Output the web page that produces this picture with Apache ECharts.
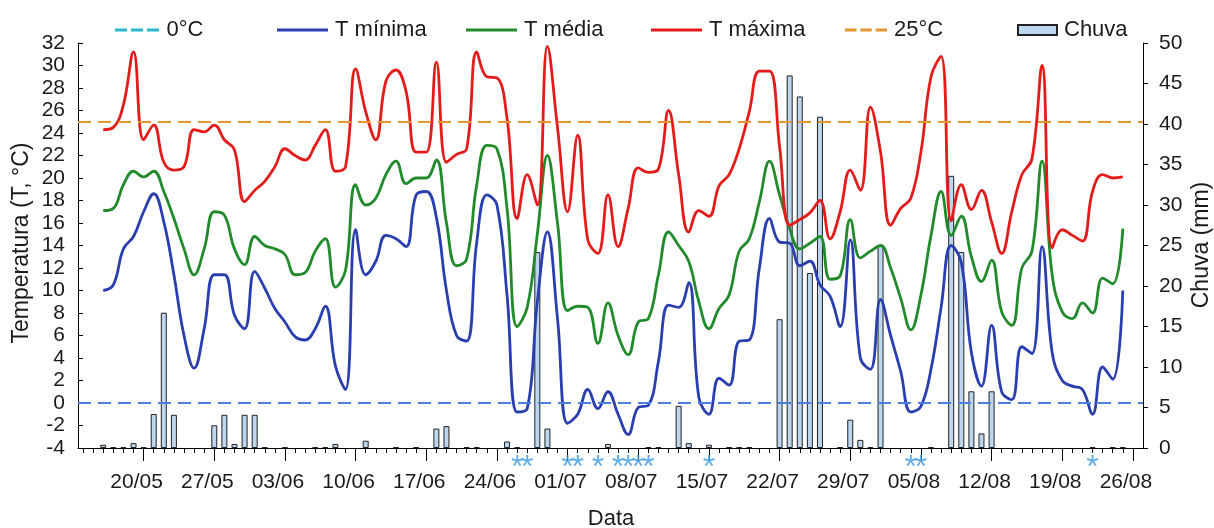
<!DOCTYPE html>
<html><head><meta charset="utf-8">
<script src="https://cdn.jsdelivr.net/npm/echarts@6/dist/echarts.min.js"></script>
<style>html,body{margin:0;padding:0;background:#fff}#c{width:1214px;height:528px}</style>
</head><body><div id="c"></div>
<script>
// ---- data ----
const startDate = '16/05';
const tickLabels = ['20/05','27/05','03/06','10/06','17/06','24/06','01/07','08/07','15/07','22/07','29/07','05/08','12/08','19/08','26/08'];
const tMax = [24.3,24.5,26.5,31.2,23.4,24.7,21.4,20.7,21.0,24.3,
  24.1,24.7,23.4,22.5,17.9,18.9,19.7,21.0,22.6,22.0,
  21.6,22.9,24.3,20.6,21.0,29.7,25.9,23.4,28.6,29.6,
  27.7,22.3,22.3,30.3,21.4,22.1,22.6,31.2,29.0,28.9,
  25.3,16.4,20.3,17.6,31.7,24.5,17.0,23.8,14.5,13.3,
  18.5,13.9,17.3,20.9,20.5,20.8,26.0,20.3,15.2,17.1,
  16.6,19.3,20.3,22.6,25.9,29.5,29.5,22.8,15.8,16.3,
  16.9,18.0,14.6,17.0,20.7,18.9,26.3,22.3,15.8,17.3,
  18.2,22.3,29.0,30.8,16.2,19.4,17.2,18.9,16.1,13.3,
  17.0,20.3,21.7,30.0,13.8,15.4,14.9,14.4,18.8,20.3,
  20.0,20.1];
const tMed = [17.1,17.3,19.4,20.6,20.1,20.6,18.8,16.4,13.7,11.4,
  13.7,17.0,16.7,13.7,12.3,14.8,14.0,13.7,13.2,11.4,
  11.6,13.5,14.6,10.3,11.8,19.4,17.6,18.2,20.3,21.5,
  19.5,20.0,20.0,21.6,16.0,12.2,12.8,19.4,22.9,22.6,
  17.3,6.8,8.5,15.0,22.0,16.0,8.2,8.6,8.5,5.3,
  8.9,6.0,4.3,7.2,7.5,11.4,15.2,14.0,12.6,9.0,
  6.6,8.4,9.6,13.5,14.6,17.9,21.5,18.5,15.5,13.7,
  14.2,14.8,11.0,11.3,16.3,12.9,13.5,14.0,12.0,9.3,
  6.5,9.6,14.9,18.8,14.9,16.6,13.0,10.8,12.7,8.1,
  6.9,12.0,13.5,21.5,11.4,8.1,7.5,8.9,8.0,11.1,
  10.6,15.5];
const tMin = [10.0,10.5,13.7,14.8,17.0,18.6,16.1,11.4,6.0,3.1,
  6.6,11.4,11.4,7.8,6.6,11.7,10.2,8.4,7.2,5.9,
  5.6,6.6,8.6,3.3,1.2,15.4,11.4,12.6,14.9,14.6,
  13.9,18.5,18.8,16.5,10.0,6.0,5.5,14.3,18.5,17.6,
  9.6,-0.8,-0.5,9.0,15.2,7.5,-1.8,-1.0,1.2,-0.5,
  1.0,-1.0,-2.8,-0.4,-0.2,3.7,8.7,8.5,10.7,0.5,
  -1.0,2.2,1.6,5.5,5.6,12.0,16.4,14.3,14.2,12.2,
  12.6,10.5,9.5,6.8,14.5,4.0,3.0,9.2,6.0,2.8,
  -0.8,-0.3,3.0,8.5,14.0,12.5,4.5,1.5,6.9,1.0,
  0.3,5.0,4.4,13.9,4.5,2.0,1.5,1.2,-1.0,3.2,
  2.1,10.0];
const chuva = [0.4,0.1,0.1,0.6,0.1,4.2,16.7,4.1,null,null,
  null,2.8,4.1,0.5,4.1,4.1,0.1,null,0.1,null,
  null,0.1,0.1,0.5,null,null,0.9,null,null,0.1,
  null,0.1,null,2.4,2.7,null,0.1,0.1,null,null,
  0.8,0.1,null,24.2,2.4,null,null,null,null,null,
  0.5,null,null,null,0.1,0.1,null,5.2,0.6,null,
  0.4,null,0.1,0.1,0.1,null,null,15.9,46.0,43.4,
  21.6,40.9,null,0.1,3.5,1.0,0.1,25.0,null,null,
  null,null,0.1,null,33.6,24.2,7.0,1.8,7.0,null,
  null,null,null,null,null,null,null,null,0.1,null,
  0.1,0.1];
const frostDays = ['26/06','27/06','01/07','02/07','04/07','06/07','07/07','08/07','09/07','15/07','04/08','05/08','22/08'];
const refZero = 0, refHot = 25;

// ---- helpers ----
function dayIndex(s){
  const a = s.split('/').map(Number), b = startDate.split('/').map(Number);
  return Math.round((Date.UTC(2001,a[1]-1,a[0]) - Date.UTC(2001,b[1]-1,b[0]))/86400000);
}
const tickDays = tickLabels.map(dayIndex);
const labelOf = {}; tickLabels.forEach((l,i)=>labelOf[tickDays[i]] = l);
const allDays = []; for (let d = -2; d <= 102; d++) allDays.push(d);
const pts = arr => arr.map((v,i)=>[i,v]);

const FONT = 'Liberation Sans';
const txt = '#1a1a1a';
const C_MIN = '#2b3eaf', C_MED = '#218a2b', C_MAX = '#e31b1b', C_ZERO = '#4a7fe0', C_ZLEG = '#2bb8c8', C_HOT = '#e8962e';
const lineIcon = w => 'path://M0,0H' + w + 'V3H0Z';
const dashIcon = 'path://M0,0H12V3H0Z M16,0H28V3H16Z M32,0H44V3H32Z';
const SMOOTH = 0.42, LW = 2.8;
const chart = echarts.init(document.getElementById('c'), null, {renderer:'canvas'});

function leg(name, left, w, extra){
  return Object.assign({
    show:true, left:left, top:14, orient:'horizontal',
    data:[{name:name, icon:lineIcon(w)}],
    itemWidth:w, itemHeight:3, itemGap:10,
    textStyle:{fontFamily:FONT, fontSize:22, color:txt, padding:[0,0,0,2]}
  }, extra||{});
}

chart.setOption({
  animation:false,
  backgroundColor:'#fff',
  textStyle:{fontFamily:FONT},
  grid:{left:78, right:71, top:43, bottom:80, containLabel:false},
  legend:[
    leg('0°C', 110, 45, {data:[{name:'0°C', icon:dashIcon, itemStyle:{color:C_ZLEG}}]}),
    leg('T mínima', 272, 51),
    leg('T média', 461, 51),
    leg('T máxima', 646, 51),
    leg('25°C', 840, 42, {data:[{name:'25°C', icon:dashIcon, itemStyle:{color:C_HOT}}]}),
    leg('Chuva', 1012, 39, {itemHeight:10, data:[{name:'Chuva', icon:'rect'}]})
  ],
  graphic:[
    {type:'text', x:22, y:243, rotation:Math.PI/2, silent:true,
      style:{text:'Temperatura (T, °C)', font:'23px "Liberation Sans"', fill:txt, align:'center', verticalAlign:'middle'}},
    {type:'text', x:1202, y:245, rotation:Math.PI/2, silent:true,
      style:{text:'Chuva (mm)', font:'23px "Liberation Sans"', fill:txt, align:'center', verticalAlign:'middle'}},
    {type:'text', x:611, y:519, silent:true,
      style:{text:'Data', font:'22px "Liberation Sans"', fill:txt, align:'center', verticalAlign:'middle'}}
  ],
  xAxis:[{
    type:'value', min:-2.5, max:103, position:'bottom',
    axisLine:{show:true, onZero:false, lineStyle:{color:'#000', width:1}},
    axisTick:{show:true, customValues:tickDays, length:13, lineStyle:{color:'#000', width:1}},
    axisLabel:{show:true, customValues:tickDays, formatter:v=>labelOf[v]||'', fontSize:21, color:txt,
      margin:24, fontFamily:FONT, padding:[0,14,0,0]},
    splitLine:{show:false}
  },{
    type:'value', min:-2.5, max:103, position:'bottom',
    axisLine:{show:false, onZero:false}, axisLabel:{show:false}, splitLine:{show:false},
    axisTick:{show:true, customValues:allDays, length:5, lineStyle:{color:'#000', width:1}}
  }],
  yAxis:[{
    type:'value', min:-4, max:32, interval:2,
    axisLine:{show:true, onZero:false, lineStyle:{color:'#000'}},
    axisTick:{show:true, inside:true, length:5, lineStyle:{color:'#000'}},
    axisLabel:{fontSize:21, color:txt, margin:13, fontFamily:FONT},
    splitLine:{show:false}
  },{
    type:'value', min:0, max:50, interval:5, position:'right',
    axisLine:{show:true, onZero:false, lineStyle:{color:'#000'}},
    axisTick:{show:true, inside:false, length:5, lineStyle:{color:'#000'}},
    axisLabel:{fontSize:21, color:txt, margin:16, fontFamily:FONT},
    splitLine:{show:false}
  }],
  series:[
    {name:'Chuva', type:'bar', yAxisIndex:1, data:pts(chuva), barWidth:6, z:1,
      itemStyle:{color:'#bcd6ef', borderColor:'#222', borderWidth:1}},
    {name:'0°C', type:'line', data:[], symbol:'none', z:3,
      lineStyle:{color:C_ZERO, type:[13,7], width:2.2}, itemStyle:{color:C_ZLEG},
      markLine:{silent:true, symbol:'none', label:{show:false},
        lineStyle:{color:C_ZERO, type:[13,7], width:2.2}, data:[{yAxis:refZero}]}},
    {name:'25°C', type:'line', data:[], symbol:'none', z:3,
      lineStyle:{color:C_HOT, type:[13,7], width:2.2}, itemStyle:{color:C_HOT},
      markLine:{silent:true, symbol:'none', label:{show:false},
        lineStyle:{color:C_HOT, type:[13,7], width:2.2}, data:[{yAxis:refHot}]}},
    {name:'T mínima', type:'line', data:pts(tMin), smooth:SMOOTH, symbol:'none', z:4,
      lineStyle:{color:C_MIN, width:LW}, itemStyle:{color:C_MIN}},
    {name:'T média', type:'line', data:pts(tMed), smooth:SMOOTH, symbol:'none', z:4,
      lineStyle:{color:C_MED, width:LW}, itemStyle:{color:C_MED}},
    {name:'T máxima', type:'line', data:pts(tMax), smooth:SMOOTH, symbol:'none', z:4,
      lineStyle:{color:C_MAX, width:LW}, itemStyle:{color:C_MAX}},
    {name:'geada', type:'scatter', data:frostDays.map(s=>[dayIndex(s), -4]), symbolSize:0, z:5,
      silent:true, clip:false,
      label:{show:true, formatter:'*', position:'inside', offset:[0,20], fontSize:32, color:'#3a98e6', fontFamily:FONT}}
  ]
});
</script></body></html>
